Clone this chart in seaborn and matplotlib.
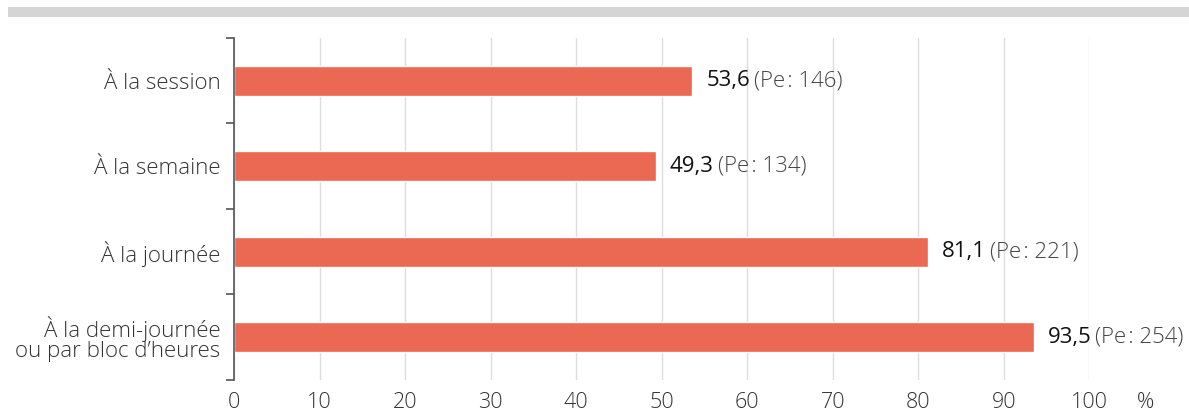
import pandas as pd
import seaborn as sns
import matplotlib.pyplot as plt
from matplotlib.patches import Rectangle

categories = ["À la session", "À la semaine", "À la journée",
              "À la demi-journée\nou par bloc d’heures"]
values = [53.6, 49.3, 81.1, 93.5]
counts = [146, 134, 221, 254]
xticks = [0, 10, 20, 30, 40, 50, 60, 70, 80, 90, 100]

df = pd.DataFrame({"cat": categories, "val": values, "n": counts})

sns.set_style("white")
plt.rcParams['font.family'] = ['Open Sans', 'DejaVu Sans']

fig = plt.figure(figsize=(11.89, 4.13), dpi=100)
ax = fig.add_axes([0.197, 0.080, 0.719, 0.828])

sns.barplot(data=df, x="val", y="cat", orient="h", color="#EB6852",
            width=0.35, saturation=1, ax=ax)

ax.set_xlim(0, 100)
ax.set_ylim(3.5, -0.5)
ax.set_xticks(xticks)
ax.set_xticklabels([str(t) for t in xticks], fontsize=15.5, fontweight="light", color="#333333")
ax.tick_params(axis="x", length=0, pad=8.5)
ax.tick_params(axis="y", length=0, pad=10, labelsize=16, labelcolor="#333333")
for lab in ax.get_yticklabels():
    lab.set_fontweight("light")
    lab.set_linespacing(0.95)
ax.set_yticks([-0.5, 0.5, 1.5, 2.5, 3.5], minor=True)
ax.tick_params(axis="y", which="minor", left=True, length=6, width=1.2,
               color="#555555", direction="out")
ax.set_xlabel("")
ax.set_ylabel("")
ax.grid(axis="x", color="#dddddd", lw=1)
ax.set_axisbelow(True)
for s in ["top", "right", "bottom"]:
    ax.spines[s].set_visible(False)
ax.spines["left"].set_color("#555555")
ax.spines["left"].set_linewidth(1.2)

for i, (v, n) in enumerate(zip(values, counts)):
    t1 = ax.annotate(f"{v:.1f}".replace(".", ","), xy=(v, i), xytext=(10, 0),
                     textcoords="offset points", va="center", ha="left",
                     fontsize=16, color="#111111")
    ax.annotate(f"(Pe\u200a: {n})", xy=(1, 0.5), xycoords=t1, xytext=(3, 0),
                textcoords="offset points", va="center", ha="left",
                fontsize=16, fontweight="light", color="#444444")

ax.annotate("%", xy=(1.066, 0), xycoords="axes fraction", xytext=(0, -8.5),
            textcoords="offset points", fontsize=15.5, fontweight="light",
            color="#333333", ha="center", va="top")

fig.patches.append(Rectangle((0.007, 0.959), 0.993, 0.024, transform=fig.transFigure,
                             facecolor="#d5d5d5", edgecolor="none"))

fig.savefig("out.png", dpi=100)
